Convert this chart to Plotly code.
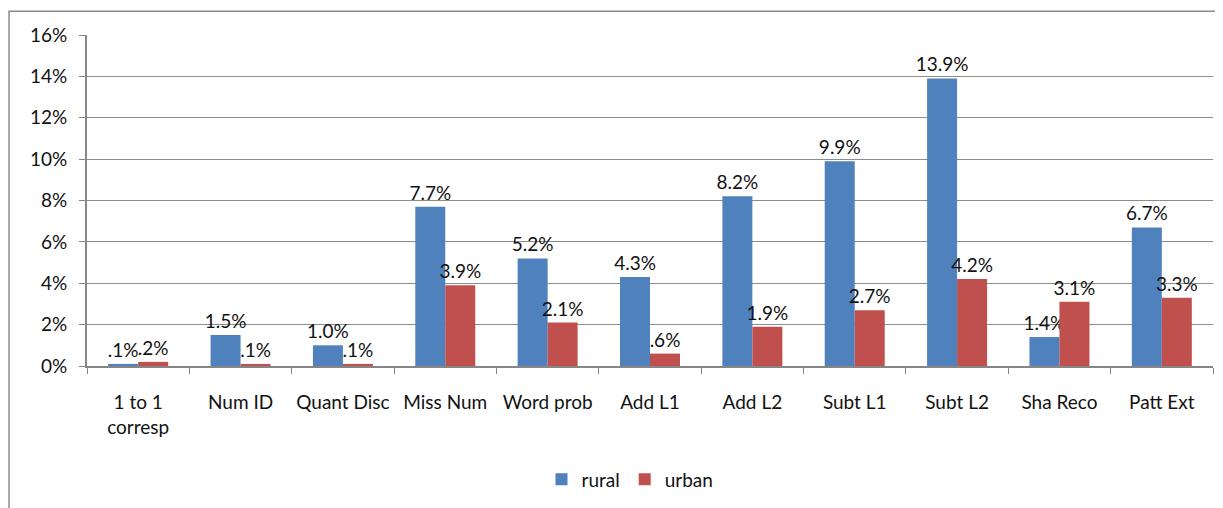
import plotly.graph_objects as go

categories = ["1 to 1<br>corresp", "Num ID", "Quant Disc", "Miss Num", "Word prob",
              "Add L1", "Add L2", "Subt L1", "Subt L2", "Sha Reco", "Patt Ext"]
rural = [0.1, 1.5, 1.0, 7.7, 5.2, 4.3, 8.2, 9.9, 13.9, 1.4, 6.7]
urban = [0.2, 0.1, 0.1, 3.9, 2.1, 0.6, 1.9, 2.7, 4.2, 3.1, 3.3]
y_ticks = [0, 2, 4, 6, 8, 10, 12, 14, 16]


def fmt(v):
    s = f"{v:.1f}%"
    if s.startswith("0."):
        s = s[1:]
    return s


FONT = "Lato, 'Open Sans', sans-serif"
TXT = "#111111"
FS = 19

# page has an 8px body margin; figure is sized to fit inside it
W, H = 1215, 500
L, R, T, B = 79, 10, 27, 140
PW, PH = W - L - R, H - T - B

fig = go.Figure()
fig.add_trace(go.Bar(x=categories, y=[v / 100 for v in rural], name="rural",
                     marker=dict(color="#4F81BD", line=dict(width=0)),
                     text=[fmt(v) for v in rural], textposition="outside",
                     constraintext="none",
                     textfont=dict(size=FS, color=TXT, family=FONT), cliponaxis=False))
fig.add_trace(go.Bar(x=categories, y=[v / 100 for v in urban], name="urban",
                     marker=dict(color="#C0504D", line=dict(width=0)),
                     text=[fmt(v) for v in urban], textposition="outside",
                     constraintext="none",
                     textfont=dict(size=FS, color=TXT, family=FONT), cliponaxis=False))

fig.update_layout(
    width=W, height=H,
    margin=dict(l=L, r=R, t=T, b=B),
    paper_bgcolor="white", plot_bgcolor="white",
    barmode="group", bargap=0.414, bargroupgap=0,
    font=dict(family=FONT, size=FS, color=TXT),
    showlegend=True,
    legend=dict(orientation="h", x=(630 - 87) / PW, xanchor="center",
                y=-(482 - 368) / PH, yanchor="middle",
                font=dict(size=FS, family=FONT, color=TXT), itemwidth=30,
                traceorder="normal"),
    xaxis=dict(showline=True, linecolor="#868686", linewidth=2,
               ticks="outside", ticklen=6, tickcolor="#868686", tickwidth=1,
               tickson="boundaries", ticklabelstandoff=18, tickangle=0,
               tickfont=dict(size=FS, family=FONT, color=TXT), showgrid=False),
    yaxis=dict(range=[0, 0.16], tickvals=[t / 100 for t in y_ticks],
               ticktext=[f"{t}%" for t in y_ticks],
               showgrid=True, gridcolor="#8c8c8c", gridwidth=1,
               showline=True, linecolor="#868686", linewidth=2,
               ticks="outside", ticklen=6, tickcolor="#868686", tickwidth=1,
               ticklabelstandoff=8, zeroline=False,
               tickfont=dict(size=FS, family=FONT, color=TXT)),
    shapes=[dict(type="rect", xref="paper", yref="paper",
                 x0=(1 - L) / PW, x1=1.1, y0=-0.6, y1=(PH + T - 3) / PH,
                 line=dict(color="#8c8c8c", width=1.5), fillcolor="rgba(0,0,0,0)",
                 layer="below")],
)

fig.write_html("out.html")
